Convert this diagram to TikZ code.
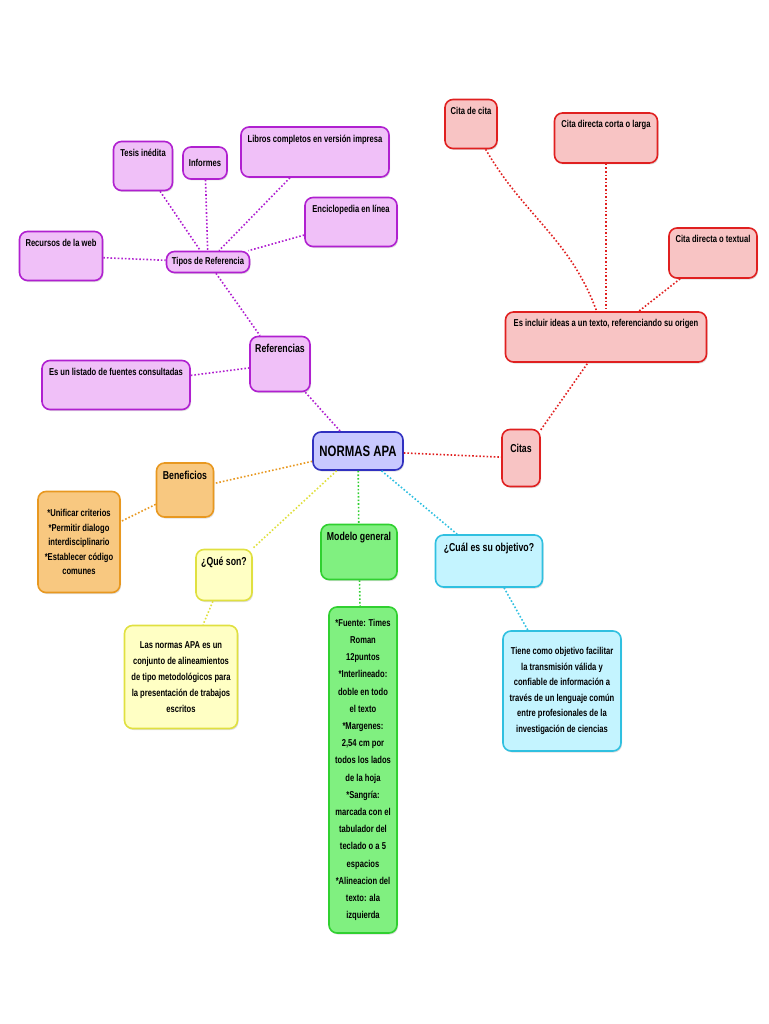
\documentclass[tikz,border=0pt]{standalone}
\usepackage{fontspec}
\setmainfont{Liberation Sans}[FakeStretch=0.76]
\usetikzlibrary{shadows}
\definecolor{pf}{HTML}{F0C0F8}\definecolor{pd}{HTML}{B020D0}
\definecolor{rf}{HTML}{F8C4C4}\definecolor{rd}{HTML}{E02020}
\definecolor{of}{HTML}{F8C880}\definecolor{od}{HTML}{E89820}
\definecolor{yf}{HTML}{FFFFC4}\definecolor{yd}{HTML}{E0E040}
\definecolor{gf}{HTML}{80F080}\definecolor{gd}{HTML}{30D030}
\definecolor{cf}{HTML}{C4F4FF}\definecolor{cd}{HTML}{30C0E0}
\definecolor{nf}{HTML}{C8C8FF}\definecolor{nd}{HTML}{3030C0}
\tikzset{
 box/.style={rounded corners=8pt,line width=1.6pt,align=center,font=\bfseries\fontsize{10}{14.5}\selectfont,inner sep=3pt,drop shadow={shadow xshift=1pt,shadow yshift=-1.5pt,opacity=0.25}},
 bw/.style 2 args={minimum width=#1,minimum height=#2},
 lab/.style={anchor=north,yshift=-5pt,font=\bfseries\fontsize{10}{12}\selectfont},
 big/.style={font=\bfseries\fontsize{11.5}{13}\selectfont},
 P/.style={box,fill=pf,draw=pd}, R/.style={box,fill=rf,draw=rd},
 O/.style={box,fill=of,draw=od}, Y/.style={box,fill=yf,draw=yd},
 G/.style={box,fill=gf,draw=gd}, C/.style={box,fill=cf,draw=cd},
 lk/.style={line width=1.6pt,dotted,#1},
}
\begin{document}
\begin{tikzpicture}[x=1pt,y=-1pt]
\useasboundingbox (0,0) rectangle (768,1024);
\node[box,fill=nf,draw=nd,bw={90pt}{38pt},font=\bfseries\fontsize{15}{17}\selectfont] (apa) at (358,451) {NORMAS APA};
% purple
\node[P,bw={60pt}{55pt},label={[lab,big]north:Referencias}] (ref) at (280,364) {};
\node[P,bw={148pt}{49pt},label={[lab]north:Es un listado de fuentes consultadas}] (lis) at (116,385) {};
\node[P,bw={83pt}{21pt}] (tip) at (208,262) {Tipos de Referencia};
\node[P,bw={83pt}{49pt},label={[lab]north:Recursos de la web}] (rec) at (61,256) {};
\node[P,bw={59pt}{49pt},label={[lab]north:Tesis inédita}] (tes) at (143,166) {};
\node[P,bw={44pt}{32pt}] (inf) at (205,163) {Informes};
\node[P,bw={148pt}{50pt},label={[lab]north:Libros completos en versión impresa}] (lib) at (315,152) {};
\node[P,bw={92pt}{49pt},label={[lab]north:Enciclopedia en línea}] (enc) at (351,222) {};
% red
\node[R,bw={52pt}{49pt},label={[lab]north:Cita de cita}] (cc) at (471,124) {};
\node[R,bw={103pt}{50pt},label={[lab]north:Cita directa corta o larga}] (cd) at (606,138) {};
\node[R,bw={88pt}{50pt},label={[lab]north:Cita directa o textual}] (ct) at (713,253) {};
\node[R,bw={201pt}{50pt},label={[lab]north:Es incluir ideas a un texto, referenciando su origen}] (inc) at (606,337) {};
\node[R,bw={38pt}{57pt},label={[lab,big,yshift=-7pt]north:Citas}] (cit) at (521,458) {};
% orange
\node[O,bw={57pt}{54pt},label={[lab,big]north:Beneficios}] (ben) at (185,490) {};
\node[O,bw={82pt}{101pt}] (bl) at (79,542) {*Unificar criterios\\*Permitir dialogo\\interdisciplinario\\*Establecer código\\comunes};
% yellow
\node[Y,bw={56pt}{51pt},label={[lab,big]north:¿Qué son?}] (que) at (224,575) {};
\node[Y,bw={113pt}{103pt},font=\bfseries\fontsize{10}{16}\selectfont] (yt) at (181,677) {Las normas APA es un\\conjunto de alineamientos\\de tipo metodológicos para\\la presentación de trabajos\\escritos};
% green
\node[G,bw={76pt}{55pt},label={[lab,big]north:Modelo general}] (mod) at (359,552) {};
\node[G,bw={68pt}{326pt},font=\bfseries\fontsize{10}{17.2}\selectfont] (gt) at (363,770) {*Fuente: Times\\Roman\\12puntos\\*Interlineado:\\doble en todo\\el texto\\*Margenes:\\2,54 cm por\\todos los lados\\de la hoja\\*Sangría:\\marcada con el\\tabulador del\\teclado o a 5\\espacios\\*Alineacion del\\texto: ala\\izquierda};
% cyan
\node[C,bw={107pt}{52pt},label={[lab,big]north:¿Cuál es su objetivo?}] (cua) at (489,561) {};
\node[C,bw={118pt}{120pt},font=\bfseries\fontsize{10}{15.5}\selectfont] (ctx) at (562,691) {Tiene como objetivo facilitar\\la transmisión válida y\\confiable de información a\\través de un lenguaje común\\entre profesionales de la\\investigación de ciencias};
% links
\draw[lk=pd] (tip) -- (ref);
\draw[lk=pd] (ref) -- (apa);
\draw[lk=pd] (lis) -- (ref);
\draw[lk=pd] (rec) -- (tip);
\draw[lk=pd] (tes) -- (tip);
\draw[lk=pd] (inf) -- (tip);
\draw[lk=pd] (lib) -- (tip);
\draw[lk=pd] (enc) -- (tip);
\draw[lk=rd] (apa) -- (cit);
\draw[lk=rd] (cit) -- (inc);
\draw[lk=rd] (cc) to[out=-60,in=110] (inc);
\draw[lk=rd] (cd) -- (inc);
\draw[lk=rd] (ct) -- (inc);
\draw[lk=od] (apa) -- (ben);
\draw[lk=od] (ben) -- (bl);
\draw[lk=yd] (apa) -- (que);
\draw[lk=yd] (que) -- (yt);
\draw[lk=gd] (apa) -- (mod);
\draw[lk=gd] (mod) -- (gt);
\draw[lk=cd] (apa) -- (cua);
\draw[lk=cd] (cua) -- (ctx);
\end{tikzpicture}
\end{document}
